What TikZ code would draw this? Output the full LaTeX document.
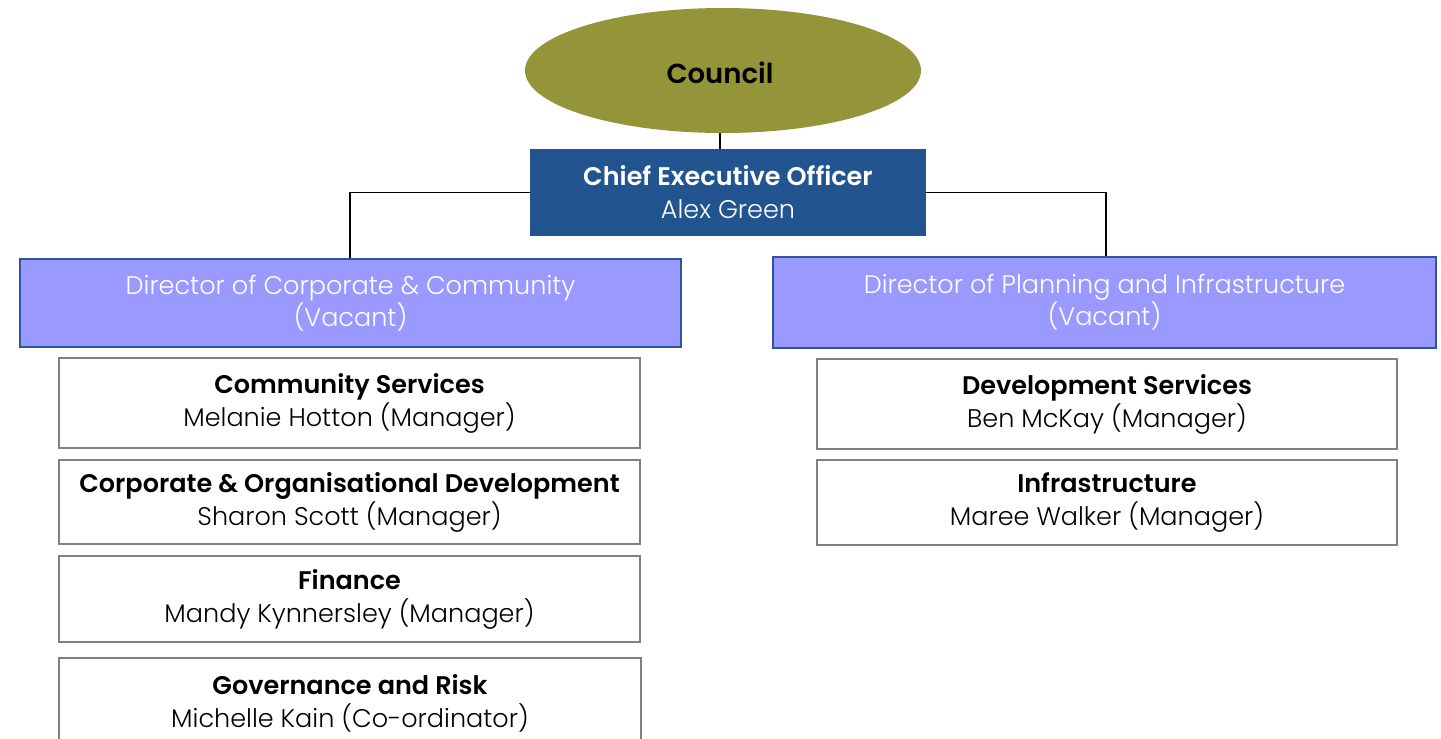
\documentclass[tikz,border=0pt]{standalone}
\usepackage{fontspec}
\setmainfont{Poppins}[UprightFont={Poppins Light},BoldFont={Poppins SemiBold}]
\usetikzlibrary{shapes.geometric}
\definecolor{olivefill}{RGB}{148,148,56}
\definecolor{ceoblue}{RGB}{34,85,143}
\definecolor{dirfill}{RGB}{153,153,255}
\definecolor{dirborder}{RGB}{47,85,151}
\definecolor{boxgray}{RGB}{128,128,128}
\tikzset{
  council/.style={ellipse, fill=olivefill, draw=none, minimum width=396pt, minimum height=125pt, inner sep=0pt,
    font=\fontsize{27.5}{30}\selectfont\bfseries, text=black},
  ceobox/.style={rectangle, fill=ceoblue, draw=none, minimum width=396pt, minimum height=87pt, inner sep=0pt,
    align=center, text=white, font=\fontsize{25.5}{33}\selectfont},
  dirbox/.style={rectangle, fill=dirfill, draw=dirborder, line width=1.5pt, minimum width=661pt, minimum height=88pt, inner sep=0pt,
    align=center, text=white, font=\fontsize{25.5}{32}\selectfont},
  subbox/.style={rectangle, fill=white, draw=boxgray, line width=2pt, minimum width=581pt, inner sep=0pt,
    align=center, text=black, font=\fontsize{25.5}{33}\selectfont},
  link/.style={draw=black, line width=1.5pt}
}
\begin{document}
\begin{tikzpicture}[x=1pt,y=-1pt]
\useasboundingbox (0,0) rectangle (1441,739);
\clip (0,0) rectangle (1441,739);
\fill[white] (0,0) rectangle (1441,739);
\node[council] (council) at (723,70.5) {};
\node[font=\fontsize{27.5}{30}\selectfont\bfseries] (counciltext) at (720,73) {Council};
\node[ceobox] (ceo) at (728,192.5) {\textbf{Chief Executive Officer}\\Alex Green};
\node[dirbox] (dirL) at (350.5,303) {Director of Corporate \& Community\\(Vacant)};
\node[dirbox, minimum width=663pt, minimum height=91pt] (dirR) at (1104.5,302.5) {Director of Planning and Infrastructure\\(Vacant)};
\node[subbox, minimum height=90pt] (cs) at (349.5,403) {\textbf{Community Services}\\Melanie Hotton (Manager)};
\node[subbox, minimum height=84pt] (cod) at (349.5,502) {\textbf{Corporate \& Organisational Development}\\Sharon Scott (Manager)};
\node[subbox, minimum height=86pt] (fin) at (349.5,599) {\textbf{Finance}\\Mandy Kynnersley (Manager)};
\node[subbox, minimum height=90pt, minimum width=582pt] (gov) at (350,703) {\textbf{Governance and Risk}\\Michelle Kain (Co-ordinator)};
\node[subbox, minimum height=90pt, minimum width=580pt] (ds) at (1107,404) {\textbf{Development Services}\\Ben McKay (Manager)};
\node[subbox, minimum height=85pt, minimum width=580pt] (inf) at (1107,502.5) {\textbf{Infrastructure}\\Maree Walker (Manager)};
\draw[link] (council.south -| 720,0) -- (720,149);
\draw[link] (ceo.west) -- (350,192.5) -- (dirL.north -| 350,0);
\draw[link] (ceo.east) -- (1106,192.5) -- (dirR.north -| 1106,0);
\end{tikzpicture}
\end{document}
